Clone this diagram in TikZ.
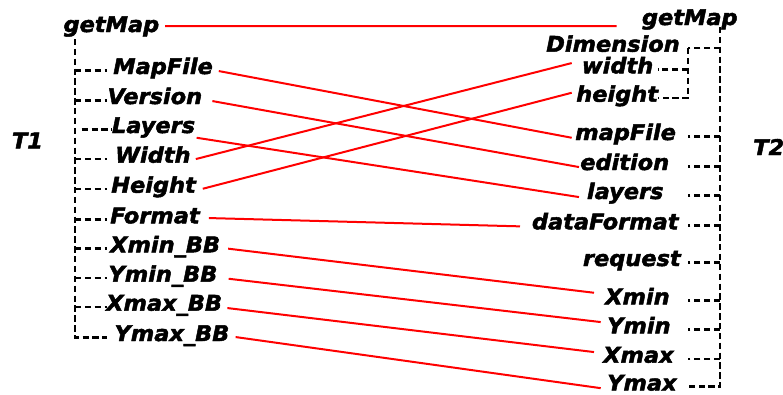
\documentclass[tikz,border=0pt]{standalone}
\usepackage{fontspec}
\setmainfont{DejaVu Sans}
\newfontfamily\lblfont{DejaVu Sans}[BoldItalicFeatures={FakeBold=2.2,FakeStretch=1.04}]
\begin{document}
\begin{tikzpicture}[x=0.75pt,y=-0.75pt,
  lbl/.style={inner sep=0pt,anchor=base west,
    font=\lblfont\bfseries\itshape\fontsize{16.2}{18}\selectfont},
  link/.style={red,line width=1.5pt},
  tree/.style={black,line width=2.1pt,dash pattern=on 4.8pt off 2.6pt}]
\useasboundingbox (0,0) rectangle (783,394);

% left schema
\node[lbl] (T1) at (11.7,148.3) {T1};
\node[lbl] (l0) at (63.3,32) {getMap};
\node[lbl] (lMapFile) at (113,74) {MapFile};
\node[lbl] (lVersion) at (107.3,104) {Version};
\node[lbl] (lLayers) at (111.7,133) {Layers};
\node[lbl] (lWidth) at (115,162.7) {Width};
\node[lbl] (lHeight) at (111,192.7) {Height};
\node[lbl] (lFormat) at (110,223.3) {Format};
\node[lbl] (lXminBB) at (110,252.3) {Xmin\_BB};
\node[lbl] (lYminBB) at (108.3,281.7) {Ymin\_BB};
\node[lbl] (lXmaxBB) at (106,310.7) {Xmax\_BB};
\node[lbl] (lYmaxBB) at (114.3,341) {Ymax\_BB};

% right schema
\node[lbl] (T2) at (753,155) {T2};
\node[lbl] (r0) at (641.7,25) {getMap};
\node[lbl] (rDim) at (546,51.7) {Dimension};
\node[lbl] (rWidth) at (581.7,73.3) {width};
\node[lbl] (rHeight) at (576,101.7) {height};
\node[lbl] (rMapFile) at (575,140) {mapFile};
\node[lbl] (rEdition) at (580,170) {edition};
\node[lbl] (rLayers) at (586.7,199) {layers};
\node[lbl] (rDataFormat) at (531.7,229.3) {dataFormat};
\node[lbl] (rRequest) at (582.7,266) {request};
\node[lbl] (rXmin) at (605,304.3) {Xmin};
\node[lbl] (rYmin) at (607,333.3) {Ymin};
\node[lbl] (rXmax) at (603,362.7) {Xmax};
\node[lbl] (rYmax) at (607,390.5) {Ymax};

% tree skeleton, left
\coordinate (lTop) at (75,39);
\coordinate (lEnd) at (107,39);
\draw[tree] (lTop) -- (lTop |- lYmaxBB.mid) -- (lEnd |- lYmaxBB.mid);
\foreach \n in {lMapFile,lVersion,lWidth,lHeight,lFormat,lXminBB,lYminBB,lXmaxBB}
  \draw[tree] (lTop |- \n.mid) -- (lEnd |- \n.mid);
\draw[tree] ([xshift=5]lTop |- lLayers.mid) -- ([xshift=4]lEnd |- lLayers.mid);

% tree skeleton, right
\coordinate (rTop) at (720,27);
\coordinate (rBranch) at (688,27);
\coordinate (rSub) at (658,27);
\draw[tree] (rTop) -- (rTop |- rYmax.mid) -- (rBranch |- rYmax.mid);
\foreach \n in {rDim,rMapFile,rEdition,rLayers,rDataFormat,rRequest,rXmin,rYmin,rXmax}
  \draw[tree] (rTop |- \n.mid) -- (rBranch |- \n.mid);
\draw[tree] (rBranch |- rDim.mid) -- (rBranch |- rHeight.mid) -- (rSub |- rHeight.mid);
\draw[tree] (rBranch |- rWidth.mid) -- (rSub |- rWidth.mid);

% correspondences
\draw[link] ([shift={(5.7,-2.3)}]l0.mid east) -- ([shift={(-25,4.7)}]r0.mid west);
\draw[link] ([shift={(5.7,0.7)}]lMapFile.mid east) -- ([shift={(-3.3,1.4)}]rMapFile.mid west);
\draw[link] ([shift={(10,0.7)}]lVersion.mid east) -- ([shift={(-1,0.7)}]rEdition.mid west);
\draw[link] ([shift={(1.3,8.4)}]lLayers.mid east) -- ([shift={(-7.7,1.7)}]rLayers.mid west);
\draw[link] ([shift={(5,0)}]lWidth.mid east) -- ([shift={(-10,-6.6)}]rWidth.mid west);
\draw[link] ([shift={(6.7,-0.3)}]lHeight.mid east) -- ([shift={(-4.3,-5.3)}]rHeight.mid west);
\draw[link] ([shift={(9,-1.6)}]lFormat.mid east) -- ([shift={(-11.7,0.7)}]rDataFormat.mid west);
\draw[link] ([shift={(7.7,0)}]lXminBB.mid east) -- ([shift={(-11,-7.9)}]rXmin.mid west);
\draw[link] ([shift={(11,0.7)}]lYminBB.mid east) -- ([shift={(-6.3,-7.6)}]rYmin.mid west);
\draw[link] ([shift={(5,1)}]lXmaxBB.mid east) -- ([shift={(-9,-7)}]rXmax.mid west);
\draw[link] ([shift={(6,-0.3)}]lYmaxBB.mid east) -- ([shift={(-6.3,1.3)}]rYmax.mid west);
\end{tikzpicture}
\end{document}
